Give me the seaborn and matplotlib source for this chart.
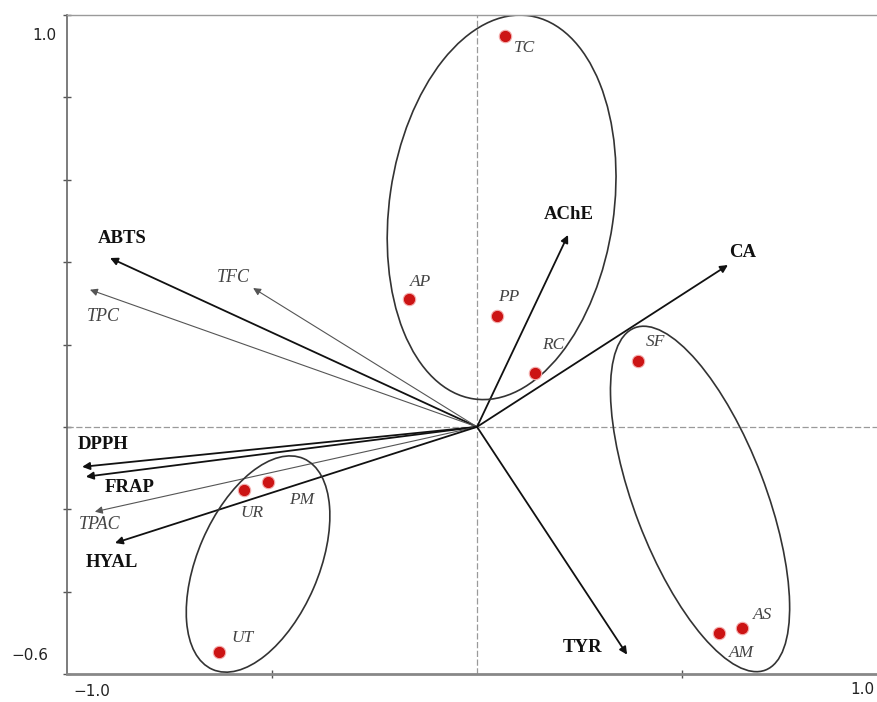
import matplotlib
matplotlib.use("Agg")
import matplotlib.pyplot as plt
import seaborn as sns
import pandas as pd
from matplotlib.patches import Ellipse

# --- data ---
samples = ["TC", "AP", "PP", "RC", "SF", "AM", "AS", "UR", "PM", "UT"]
pc1 = [0.068, -0.166, 0.049, 0.141, 0.393, 0.590, 0.646, -0.568, -0.510, -0.629]
pc2 = [0.949, 0.311, 0.269, 0.131, 0.160, -0.500, -0.488, -0.153, -0.133, -0.546]

variables = ["ABTS", "TPC", "TFC", "AChE", "CA", "DPPH", "FRAP", "TPAC", "HYAL", "TYR"]
load1 = [-0.895, -0.944, -0.546, 0.222, 0.612, -0.963, -0.954, -0.932, -0.883, 0.366]
load2 = [0.410, 0.333, 0.337, 0.466, 0.393, -0.097, -0.121, -0.206, -0.282, -0.553]
italic_vars = ["TPC", "TFC", "TPAC"]

# group ellipses: centre x, centre y, width, height, angle
groups_cx = [0.060, 0.544, -0.534]
groups_cy = [0.533, -0.175, -0.333]
groups_w = [0.547, 0.32, 0.295]
groups_h = [0.94, 0.89, 0.558]
groups_ang = [-8.3, 21, -23.5]

# label offsets (pixels)
sample_off = {"TC": (20, -12), "AP": (12, 17), "PP": (12, 19), "RC": (18, 28),
              "SF": (17, 19), "AS": (21, 13), "AM": (23, -20), "UR": (8, -23),
              "PM": (34, -18), "UT": (23, 14)}
var_off = {"ABTS": (12, 20), "TPC": (13, -27), "TFC": (-20, 11), "AChE": (1, 20),
           "CA": (15, 13), "DPPH": (21, 22), "FRAP": (44, -11), "TPAC": (5, -13),
           "HYAL": (-3, -19), "TYR": (-45, 7)}

df = pd.DataFrame({"sample": samples, "PC1": pc1, "PC2": pc2})

sns.set_theme(style="white")
plt.rcParams["font.family"] = ["Liberation Serif", "DejaVu Serif"]

fig = plt.figure(figsize=(8.78, 7.02), dpi=100)
ax = fig.add_axes([67 / 878, 28 / 702, 811 / 878, 659 / 702])
ax.set_xlim(-1.0, 0.978)
ax.set_ylim(-0.6, 1.0)

# dashed origin lines
ax.axhline(0, color="#9a9a9a", lw=0.9, ls=(0, (5, 2)), zorder=1)
ax.axvline(0, color="#9a9a9a", lw=0.9, ls=(0, (5, 2)), zorder=1)

# loading arrows
for v, x, y in zip(variables, load1, load2):
    thin = v in italic_vars
    col = "#555555" if thin else "#111111"
    ax.annotate("", xy=(x, y), xytext=(0, 0),
                arrowprops=dict(arrowstyle="-|>", color=col, lw=0.8 if thin else 1.3,
                                mutation_scale=11, shrinkA=0, shrinkB=0), zorder=2)
    dx, dy = var_off[v]
    ax.annotate(v, xy=(x, y), xytext=(dx, dy), textcoords="offset pixels",
                ha="center", va="center", fontsize=13 if thin else 13.5,
                fontweight="normal" if thin else "bold",
                fontstyle="italic" if thin else "normal",
                color="#444444" if thin else "#111111")

# group ellipses
for cx, cy, w, h, a in zip(groups_cx, groups_cy, groups_w, groups_h, groups_ang):
    ax.add_patch(Ellipse((cx, cy), w, h, angle=a, fill=False,
                         edgecolor="#333333", lw=1.2, zorder=2))

# sample scores
sns.scatterplot(data=df, x="PC1", y="PC2", ax=ax, color="#cc1414", s=80,
                edgecolor="#f4b0b0", linewidth=0.8, zorder=3, legend=False)
for s, x, y in zip(samples, pc1, pc2):
    dx, dy = sample_off[s]
    ax.annotate(s, xy=(x, y), xytext=(dx, dy), textcoords="offset pixels",
                ha="center", va="center", fontsize=12.5, fontstyle="italic",
                color="#444444")

# axes styling
ax.set_xlabel("")
ax.set_ylabel("")
ax.spines["right"].set_visible(False)
ax.spines["left"].set_color("#666666")
ax.spines["left"].set_linewidth(1.2)
ax.spines["top"].set_color("#9a9a9a")
ax.spines["top"].set_linewidth(1.0)
ax.spines["bottom"].set_color("#888888")
ax.spines["bottom"].set_linewidth(2.0)
ax.set_yticks([-0.6, -0.4, -0.2, 0.0, 0.2, 0.4, 0.6, 0.8, 1.0])
ax.set_xticks([-0.5, 0.5])
ax.tick_params(axis="both", direction="inout", length=6, width=1.0,
               color="#555555", labelleft=False, labelbottom=False,
               left=True, bottom=True)

# corner tick labels
tick_font = dict(family=["DejaVu Sans"], fontsize=11, color="#222222",
                 ha="center", va="center")
fig.text(44 / 878, 1 - 36 / 702, "1.0", **tick_font)
fig.text(30 / 878, 1 - 655 / 702, "\u22120.6", **tick_font)
fig.text(92 / 878, 1 - 692 / 702, "\u22121.0", **tick_font)
fig.text(862 / 878, 1 - 690 / 702, "1.0", **tick_font)

fig.savefig("out.png", dpi=100)
